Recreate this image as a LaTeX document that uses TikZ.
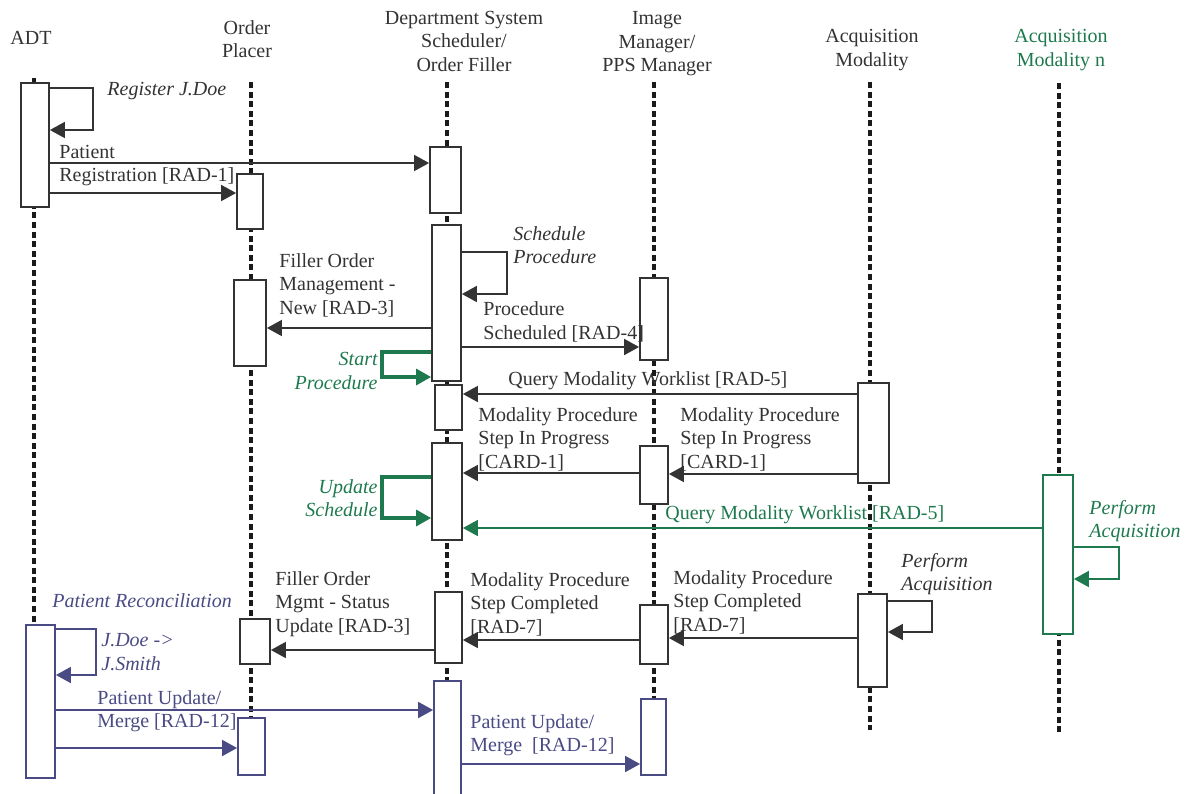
\documentclass[tikz,border=0pt]{standalone}
\usepackage{fontspec}
\setmainfont{Liberation Serif}
\usetikzlibrary{arrows.meta,fit}
\definecolor{dk}{HTML}{333333}
\definecolor{ll}{HTML}{1A1A1A}
\definecolor{gr}{HTML}{1E7A4E}
\definecolor{bl}{HTML}{4A4A85}
\tikzset{
  life/.style={ll, line width=1.9pt, dash pattern=on 3pt off 1.8pt},
  actbox/.style={draw=dk, fill=white, line width=0.9pt, inner sep=0pt},
  gbox/.style={actbox, draw=gr},
  bbox/.style={actbox, draw=bl},
  msg/.style={dk, line width=0.9pt, -{Triangle[length=7.5pt,width=8pt]}},
  gmsg/.style={msg, gr},
  gloop/.style={gmsg, line width=1.6pt},
  bmsg/.style={msg, bl},
  lbl/.style={text=dk, font=\fontsize{10}{11.75}\selectfont, inner sep=0pt, align=left},
  ilbl/.style={lbl, font=\fontsize{10}{11.75}\selectfont\itshape},
  glbl/.style={ilbl, text=gr},
  blbl/.style={lbl, text=bl},
  hdr/.style={lbl, align=center, anchor=center},
}
\begin{document}
\begin{tikzpicture}[x=0.5pt,y=-0.5pt]
\useasboundingbox (0,0) rectangle (1191,794);
\clip (0,0) rectangle (1191,794);
% headers
\node[hdr] (hadt) at (31,38) {ADT};
\node[hdr] (hop) at (247,39) {Order\\Placer};
\node[hdr] (hdept) at (464,41) {Department System\\Scheduler/\\Order Filler};
\node[hdr] (him) at (657,44) {Image\\Manager/\\PPS Manager};
\node[hdr] (ham) at (872,50) {Acquisition\\Modality};
\node[hdr, text=gr] (hamn) at (1061,50) {Acquisition\\Modality n};
% lifelines
\draw[life] (34,78) -- (34,625);
\draw[life] (251,82) -- (251,718);
\draw[life] (447,82) -- (447,681);
\draw[life] (654,82) -- (654,699);
\draw[life] (870,82) -- (870,730);
\draw[life] (1059,83) -- (1059,732);
% activation boxes
\node[actbox, fit={(21,83)(49,207)}] (adt1) {};
\node[actbox, fit={(237,174)(263,229)}] (op1) {};
\node[actbox, fit={(430,147)(461,213)}] (dept1) {};
\node[actbox, fit={(432,225)(461,381)}] (dept2) {};
\node[actbox, fit={(234,280)(266,366)}] (op2) {};
\node[actbox, fit={(640,278)(668,360)}] (im1) {};
\node[actbox, fit={(435,385)(462,430)}] (dept3) {};
\node[actbox, fit={(858,383)(889,483)}] (am1) {};
\node[actbox, fit={(432,443)(462,540)}] (dept4) {};
\node[actbox, fit={(640,446)(668,504)}] (im2) {};
\node[gbox, fit={(1043,475)(1073,634)}] (amn) {};
\node[actbox, fit={(858,594)(887,687)}] (am2) {};
\node[actbox, fit={(640,605)(668,664)}] (im3) {};
\node[actbox, fit={(435,592)(462,663)}] (dept5) {};
\node[actbox, fit={(240,619)(270,664)}] (op3) {};
\node[bbox, fit={(26,625)(55,778)}] (adt2) {};
\node[bbox, fit={(238,718)(265,775)}] (op4) {};
\node[bbox, fit={(434,681)(461,830)}] (dept6) {};
\node[bbox, fit={(641,699)(666,775)}] (im4) {};
% messages
\draw[msg] (adt1.east |- 0,88) -- (93,88) -- (93,130) -- (adt1.east |- 0,130);
\node[ilbl, anchor=west] (lreg) at (107,91) {Register J.Doe};
\draw[msg] (adt1.east |- 0,163) -- (dept1.west |- 0,163);
\draw[msg] (adt1.east |- 0,193) -- (op1.west |- 0,193);
\node[lbl, anchor=west] (lpr) at (59,165.5) {Patient\\Registration [RAD-1]};
\draw[msg] (dept2.east |- 0,252) -- (507,252) -- (507,294) -- (dept2.east |- 0,294);
\node[ilbl, anchor=west] (lsch) at (513,245) {Schedule\\Procedure};
\draw[msg] (dept2.west |- 0,328) -- (op2.east |- 0,328);
\node[lbl, anchor=west] (lfo) at (279,285) {Filler Order\\Management -\\New [RAD-3]};
\draw[msg] (dept2.east |- 0,347) -- (im1.west |- 0,347);
\node[lbl, anchor=west] (lps) at (483,322) {Procedure\\Scheduled [RAD-4]};
\draw[gloop] (dept2.west |- 0,352) -- (382,352) -- (382,377) -- (dept2.west |- 0,377);
\node[glbl, anchor=east, align=right] (lsp) at (378,371) {Start\\Procedure};
\draw[msg] (am1.west |- 0,394) -- (dept3.east |- 0,394);
\node[lbl, anchor=west] (lq) at (508,381) {Query Modality Worklist [RAD-5]};
\draw[msg] (am1.west |- 0,474) -- (im2.east |- 0,474);
\draw[msg] (im2.west |- 0,473) -- (dept4.east |- 0,473);
\node[lbl, anchor=west] (lip1) at (478,439) {Modality Procedure\\Step In Progress\\{}[CARD-1]};
\node[lbl, anchor=west] (lip2) at (680,439) {Modality Procedure\\Step In Progress\\{}[CARD-1]};
\draw[gloop] (dept4.west |- 0,477) -- (382,477) -- (382,518) -- (dept4.west |- 0,518);
\node[glbl, anchor=east, align=right] (lus) at (378,498) {Update\\Schedule};
\draw[gmsg] (amn.west |- 0,528) -- (dept4.east |- 0,528);
\node[lbl, text=gr, anchor=west] (lqn) at (665,515) {Query Modality Worklist [RAD-5]};
\draw[gmsg] (amn.east |- 0,547) -- (1119,547) -- (1119,579) -- (amn.east |- 0,579);
\node[glbl, anchor=west] (lpan) at (1089,521) {Perform\\Acquisition};
\draw[msg] (am2.east |- 0,601) -- (932,601) -- (932,632) -- (am2.east |- 0,632);
\node[ilbl, anchor=west] (lpa) at (901,574) {Perform\\Acquisition};
\draw[msg] (am2.west |- 0,638) -- (im3.east |- 0,638);
\draw[msg] (im3.west |- 0,640) -- (dept5.east |- 0,640);
\node[lbl, anchor=west] (lc1) at (470,604) {Modality Procedure\\Step Completed\\{}[RAD-7]};
\node[lbl, anchor=west] (lc2) at (673,602) {Modality Procedure\\Step Completed\\{}[RAD-7]};
\draw[msg] (dept5.west |- 0,650) -- (op3.east |- 0,650);
\node[lbl, anchor=west] (lfs) at (275,604) {Filler Order\\Mgmt - Status\\Update [RAD-3]};
\node[ilbl, text=bl, anchor=west] (lrec) at (52,601) {Patient Reconciliation};
\draw[bmsg] (adt2.east |- 0,629) -- (96,629) -- (96,675) -- (adt2.east |- 0,675);
\node[ilbl, text=bl, anchor=west] (ljd) at (101,652) {J.Doe ->\\J.Smith};
\draw[bmsg] (adt2.east |- 0,710) -- (dept6.west |- 0,710);
\draw[bmsg] (adt2.east |- 0,748) -- (op4.west |- 0,748);
\node[blbl, anchor=west] (lpu1) at (97,711) {Patient Update/\\Merge [RAD-12]};
\draw[bmsg] (dept6.east |- 0,764) -- (im4.west |- 0,764);
\node[blbl, anchor=west] (lpu2) at (470,735) {Patient Update/\\Merge~ [RAD-12]};
\end{tikzpicture}
\end{document}
